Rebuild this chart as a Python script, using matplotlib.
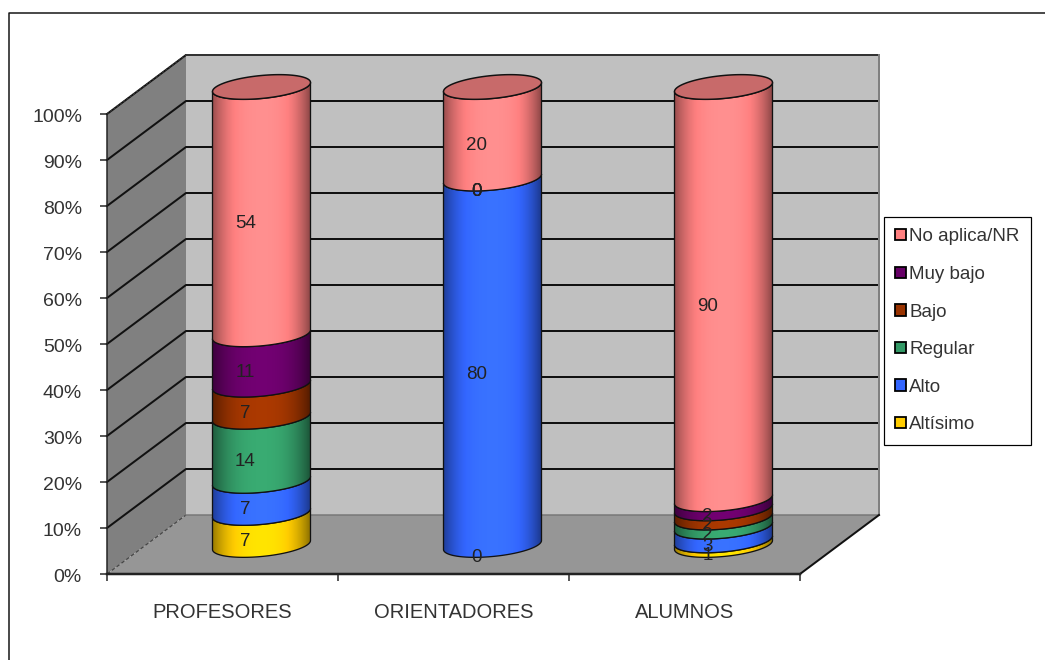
import numpy as np
import matplotlib
matplotlib.use('Agg')
import matplotlib.pyplot as plt
from matplotlib.lines import Line2D
from matplotlib.patches import Patch, Polygon
from matplotlib.path import Path
from matplotlib.transforms import ScaledTranslation

plt.rcParams['font.family'] = ['Liberation Sans', 'DejaVu Sans']

categories = ['PROFESORES', 'ORIENTADORES', 'ALUMNOS']
series_names = ['Altísimo', 'Alto', 'Regular', 'Bajo', 'Muy bajo', 'No aplica/NR']
altisimo = [7, 0, 1]
alto = [7, 80, 3]
regular = [14, 0, 2]
bajo = [7, 0, 2]
muy_bajo = [11, 0, 2]
no_aplica = [54, 20, 90]
series = [altisimo, alto, regular, bajo, muy_bajo, no_aplica]
colors = ['#FFCC00', '#3366FF', '#339966', '#993300', '#660066', '#FF8080']
yticks = list(range(0, 101, 10))

W, H = 1045, 660
fig = plt.figure(figsize=(W / 100, H / 100), dpi=100, facecolor='white')
# axes box is the front plane of the 3d chart
ax = fig.add_axes([107 / W, 1 - 574 / H, 693 / W, 460 / H])
ax.patch.set_visible(False)

# depth of the box and of the cylinders, in data units
DX, DY = 79 / 231, 59 / 4.6
CX, CY = 39 / 231, 29 / 4.6
SCALE = 458 / 460
HALF_W = 49 / 231
ELL_B, ELL_TILT = 11.5 / 4.6, 4.5 / 4.6
px = 0.72


def ellipse(cx, cy, t):
    return cx + HALF_W * np.cos(t), cy + ELL_TILT * np.cos(t) + ELL_B * np.sin(t)


def shaded(color, n=120):
    rgb = np.array(matplotlib.colors.to_rgb(color))
    u = np.linspace(-1, 1, n)
    # brighter around the middle, a bit darker on the right side
    s = 1.12 - np.abs(u) ** 2.5 * np.where(u > 0, 0.58, 0.5)
    return np.clip(rgb[None, None, :] * s[None, :, None], 0, 1)


# walls and floor
ax.add_patch(Polygon([(0, 0), (0, 100), (DX, 100 + DY), (DX, DY)], fc='#808080', ec='none', clip_on=False, zorder=1))
ax.add_patch(Polygon([(DX, DY), (DX, 100 + DY), (3 + DX, 100 + DY), (3 + DX, DY)], fc='#C0C0C0', ec='none', clip_on=False, zorder=1))
ax.add_patch(Polygon([(0, 0), (3, 0), (3 + DX, DY), (DX, DY)], fc='#969696', ec='none', clip_on=False, zorder=1))

for v in yticks[1:]:
    ax.plot([0, DX, 3 + DX], [v, v + DY, v + DY], color='#111111', lw=2 * px, clip_on=False, zorder=2)
ax.plot([0, DX], [100, 100 + DY], color='#333333', lw=1.5 * px, ls=(0, (1.5, 1.2)), clip_on=False, zorder=3)
ax.plot([DX, 3 + DX], [100 + DY, 100 + DY], color='#333333', lw=2 * px, clip_on=False, zorder=3)
ax.plot([0, DX], [0, DY], color='#444444', lw=1.2 * px, ls=(0, (3, 2)), clip_on=False, zorder=3)
ax.plot([DX, 3 + DX], [DY, DY], color='#777777', lw=1.5 * px, clip_on=False, zorder=3)
ax.plot([3 + DX, 3 + DX], [DY, 100 + DY], color='#808080', lw=2 * px, clip_on=False, zorder=3)
ax.plot([3, 3 + DX], [0, DY], color='#111111', lw=2 * px, clip_on=False, zorder=3)

# cylinders
lower = np.linspace(np.pi, 2 * np.pi, 60)
around = np.linspace(0, 2 * np.pi, 120)
z = 5
for i in range(len(categories)):
    cx = i + 0.5 + CX
    base = 0
    for vals, color in zip(series, colors):
        v = vals[i]
        if v == 0:
            continue
        y0, y1 = base * SCALE + CY, (base + v) * SCALE + CY
        x_lo, y_lo = ellipse(cx, y0, lower)
        x_up, y_up = ellipse(cx, y1, lower[::-1])
        verts = np.column_stack([np.r_[x_lo, x_up], np.r_[y_lo, y_up]])
        im = ax.imshow(shaded(color), extent=[cx - HALF_W, cx + HALF_W, y0 - 5, y1 + 5],
                       aspect='auto', interpolation='bilinear', zorder=z)
        im.set_clip_box(fig.bbox)
        im.set_clip_path(Path(verts), transform=ax.transData)
        ax.add_patch(Polygon(verts, closed=True, fc='none', ec='#111111', lw=1.3 * px, clip_on=False, zorder=z + 1))
        base += v
        z += 2
    # cap of the stack
    xt, yt = ellipse(cx, base * SCALE + CY, around)
    ax.add_patch(Polygon(np.column_stack([xt, yt]), fc='#C86A6A', ec='#111111', lw=1.5 * px, clip_on=False, zorder=z))
    z += 1

# data labels sit on the front of the cylinder
for i in range(len(categories)):
    base = 0
    for vals in series:
        v = vals[i]
        ax.text(i + 0.5 + CX - 16 / 231, (base + v / 2) * SCALE + CY - 13 / 4.6, str(v), ha='center', va='center',
                fontsize=13.5, color='#222222', zorder=500, clip_on=False)
        base += v

ax.set_xlim(0, 3)
ax.set_ylim(0, 100)
ax.set_xticks([0, 1, 2, 3])
ax.set_xticklabels([])
ax.set_xticks([0.5, 1.5, 2.5], labels=categories, minor=True)
ax.set_yticks(yticks)
ax.set_yticklabels([str(v) + '%' for v in yticks])
ax.tick_params(axis='y', length=5, width=1.5 * px, color='#222222', labelsize=14, labelcolor='#333333', pad=13)
ax.tick_params(axis='x', which='major', length=5, width=1.5 * px, color='#222222')
ax.tick_params(axis='x', which='minor', length=0, labelsize=14.5, labelcolor='#333333', pad=21)
# nudge the percent labels down 2 px
for lab in ax.get_yticklabels():
    lab.set_transform(lab.get_transform() + ScaledTranslation(0, -2 / 100, fig.dpi_scale_trans))
for name in ['top', 'right']:
    ax.spines[name].set_visible(False)
ax.spines['left'].set_linewidth(1.5 * px)
ax.spines['left'].set_color('#222222')
ax.spines['bottom'].set_linewidth(2.5 * px)
ax.spines['bottom'].set_color('#222222')
for s in ax.spines.values():
    s.set_zorder(400)

# legend, top entry first
handles = [Patch(fc=c, ec='black', lw=1.8 * px) for c in colors[::-1]]
ax.legend(handles, series_names[::-1], loc='upper left', bbox_to_anchor=(884 / W, 1 - 217 / H),
          bbox_transform=fig.transFigure, fontsize=13.5, frameon=True, fancybox=False, framealpha=1,
          edgecolor='black', borderaxespad=0, handlelength=0.55, handleheight=0.55,
          handletextpad=0.2, labelspacing=1.1, borderpad=0.6, labelcolor='#333333')
ax.get_legend().get_frame().set_linewidth(1.2 * px)
ax.get_legend().set_zorder(600)

# chart frame, runs off the right and bottom of the picture
fig.add_artist(Line2D([9 / W, 9 / W, 1], [0, 1 - 13 / H, 1 - 13 / H], color='#111111', lw=1.5 * px))

fig.savefig('out.png', dpi=100)
